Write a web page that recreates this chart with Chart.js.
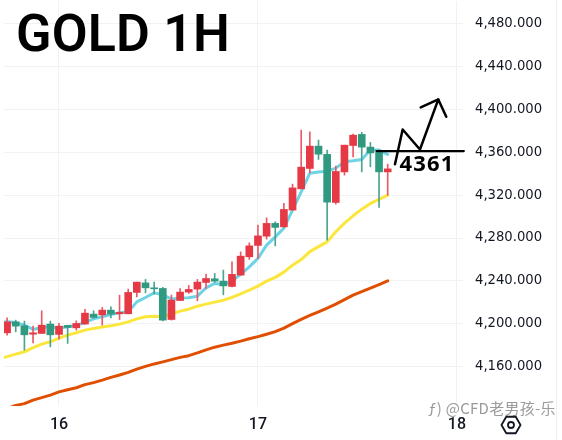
<!DOCTYPE html>
<html><head><meta charset="utf-8">
<script src="https://cdn.jsdelivr.net/npm/chart.js@4"></script>
<style>html,body{margin:0;padding:0;background:#fff}canvas{display:block}</style>
</head><body><canvas id="c" width="562" height="440"></canvas>
<script>
const opens =[4191.7,4201.9,4198.2,4190.4,4191.1,4199.8,4190.2,4198.6,4196.3,4199.8,4209.1,4208.4,4212.8,4209.4,4209.4,4229.3,4238.2,4233.6,4233,4204.1,4221.8,4229.6,4232.4,4238.6,4242,4239.8,4234.9,4245.4,4262.5,4273.1,4281.7,4293.6,4290.4,4306,4325.8,4344.8,4365.6,4357.9,4313.1,4341.6,4366.2,4376.5,4364.7,4359.7,4341.6];
const closes=[4201.9,4197.9,4189.8,4191.7,4198.8,4189.8,4197.9,4196.7,4200.4,4210,4206,4212.8,4209.1,4210.7,4229.3,4238.9,4233.6,4232.7,4203.5,4222.1,4229.6,4232.1,4238.9,4242.3,4239.8,4235.4,4246.1,4263.1,4272.7,4282,4293.6,4289.9,4306.6,4326.7,4346,4365.6,4358.1,4313.4,4342,4366.5,4375.8,4364.7,4359.3,4341.6,4344.4];
const highs =[4205.6,4203.5,4202.6,4197.9,4212.2,4202.6,4200.4,4198.8,4202.8,4213.5,4212.2,4215.3,4215.9,4226.8,4232.4,4238.9,4241.4,4238.9,4234,4226.8,4233,4235.8,4241.4,4246.3,4247,4250.1,4257.8,4267.1,4275.5,4292,4298.8,4295.1,4312.2,4330.2,4380.5,4378.9,4371.2,4361.9,4347,4366.5,4376.8,4378.4,4369,4361.9,4348.8];
const lows  =[4189.5,4192.6,4175.5,4182.3,4191.1,4178.6,4185.8,4181.8,4194.2,4199.8,4205.1,4198.8,4205.6,4204.1,4209.4,4225.2,4228.9,4227.7,4202.8,4203.5,4221.8,4228.4,4221.5,4233,4238.9,4227.1,4234.5,4245.4,4260,4261,4279,4272.7,4289.9,4306,4325.8,4340.7,4353.2,4278,4311.6,4338.6,4355.6,4341.6,4346.3,4308.5,4319.9];
// moving averages: the first value lies one bar before the first candle
const maFast=[4201.6,4201.9,4201.2,4198.8,4194.8,4196.7,4197.3,4195.8,4197.3,4198.8,4201.3,4204.7,4206.6,4208.8,4210.3,4211.2,4220.5,4224.6,4228.9,4227.2,4223.1,4224,4224.3,4225.8,4233.6,4237.7,4236.7,4239.8,4246.1,4253.1,4261,4273.4,4281.1,4289.2,4306,4323,4340.4,4341.4,4342.3,4345.1,4351,4351.9,4353.2,4361.9,4361.9,4357.9];
const maMid =[4167.6,4169.5,4171.8,4174,4177.9,4181.1,4183.3,4186.7,4189.5,4191.7,4194.2,4195.8,4197,4198.2,4199.8,4201.9,4204.7,4206.6,4207.2,4206.9,4209.1,4211.9,4213.7,4216.5,4218.4,4220.3,4222.1,4224.6,4228,4231.4,4235.2,4239.8,4243.3,4248.2,4254.7,4259.9,4267.3,4272,4276.4,4285.8,4293.9,4300.7,4306.9,4312.2,4315.9,4319.9];
const maSlow=[4118.7,4121,4124.1,4125.7,4129,4131.3,4133.6,4136.7,4138.7,4140.5,4143.4,4145.3,4147.6,4150.2,4152.4,4154.8,4157.8,4160.4,4162.7,4164.6,4166.7,4168.8,4170.4,4173,4175.8,4178.3,4180.2,4181.9,4183.9,4186.1,4188.1,4190.4,4192.8,4196,4200.2,4204.2,4207.9,4211.2,4214.7,4218.4,4222.6,4226.8,4230,4233.3,4236.6,4240.1];
const yTicks=[4160,4200,4240,4280,4320,4360,4400,4440,4480];
const dayTicks=[6,29,52];
const dayLabels=['16','17','18'];
// hand-drawn annotation, in bar index / price
const levelX=[42.7,52.8], levelY=[4361,4361];
const zigX=[44.84,45.73,47.73,49.85,50.77], zigY=[4348.8,4381.1,4362.5,4409.1,4392.9];
const headX=[47.82,49.85], headY=[4401.6,4409.1];
const titleText='GOLD 1H', levelText='4361', markText='\u0192) @CFD老男孩-乐';

const RED='#e63946', GREEN='#2f9a80';
const colors=opens.map((o,i)=>closes[i]>=o?RED:GREEN);
const wickColors=opens.map((o,i)=>closes[i]>=o?'#ea5a66':'#4aa58f');
const pts=(xs,ys)=>xs.map((x,i)=>({x,y:ys[i]}));
const fromPrev=a=>a.map((y,i)=>({x:i-1,y}));
const line=(data,color,width,order,clip)=>({type:'line',data,borderColor:color,borderWidth:width,pointRadius:0,tension:0,order,clip,fill:false,borderCapStyle:'round',borderJoinStyle:'round'});
const noPad=s=>{s.paddingTop=s.paddingBottom=s.paddingLeft=s.paddingRight=0;};

const decor={id:'decor',
 beforeDraw(ch){const c=ch.ctx;c.save();c.fillStyle='#fff';c.fillRect(0,0,562,440);
  c.strokeStyle='#efefef';c.lineWidth=1;c.beginPath();c.moveTo(556.5,0);c.lineTo(556.5,440);c.stroke();c.restore();},
 afterDraw(ch){const c=ch.ctx,xs=ch.scales.x,ys=ch.scales.y;c.save();
  c.fillStyle='#000';c.textBaseline='alphabetic';c.textAlign='left';
  c.letterSpacing='0.2px';c.font='600 52px Roboto';c.fillText(titleText,16,50.5);
  c.letterSpacing='1.2px';c.font='700 22px "Noto Sans"';c.fillText(levelText,xs.getPixelForValue(45.35),ys.getPixelForValue(4342.5));
  c.letterSpacing='0.3px';
  c.font='15px "Noto Sans CJK SC"';c.fillStyle='#9b9b9b';c.fillText(markText,428,414);
  // gear icon
  c.letterSpacing='0px';
  c.strokeStyle='#131722';c.lineWidth=1.8;c.lineJoin='round';const cx=511,cy=425,r=9.5;
  c.beginPath();for(let i=0;i<6;i++){const a=Math.PI/3*i;const px=cx+r*Math.cos(a),py=cy+r*Math.sin(a);i?c.lineTo(px,py):c.moveTo(px,py);}c.closePath();c.stroke();
  c.beginPath();c.arc(cx,cy,3,0,Math.PI*2);c.stroke();
  c.restore();}
};

new Chart(document.getElementById('c'),{
 data:{datasets:[
  {type:'bar',data:opens.map((o,i)=>({x:i,y:[Math.min(o,closes[i]),Math.max(o,closes[i])]})),backgroundColor:colors,barThickness:7,grouped:false,order:1},
  {type:'bar',data:lows.map((l,i)=>({x:i,y:[l,highs[i]]})),backgroundColor:wickColors,barThickness:1,grouped:false,order:2},
  line(fromPrev(maFast),'#6fd3e6',3,3),
  line(fromPrev(maMid),'#fbe73c',3,4),
  line(fromPrev(maSlow),'#e04f00',3,5),
  line(pts(levelX,levelY),'#000',2.2,0,false),
  line(pts(zigX,zigY),'#000',2.5,0,false),
  line(pts(headX,headY),'#000',2.5,0,false)
 ]},
 options:{responsive:false,animation:false,devicePixelRatio:1,
  layout:{padding:{left:4,right:5,top:1,bottom:0}},
  plugins:{legend:{display:false},tooltip:{enabled:false},title:{display:false}},
  scales:{
   x:{type:'linear',offset:false,min:-0.358,max:52.705,
    afterFit(s){s.height=34;noPad(s);},
    afterBuildTicks(s){s.ticks=dayTicks.map(v=>({value:v}));},
    grid:{color:'#f2f2f2',drawTicks:false,offset:false},border:{display:false},
    ticks:{padding:9,maxRotation:0,autoSkip:false,color:'#131722',font:{family:'Roboto',size:16,weight:'500'},
     callback:v=>dayLabels[dayTicks.indexOf(v)]}},
   y:{type:'linear',position:'right',min:4123.5,max:4500.8,
    afterFit(s){s.width=94;noPad(s);},
    afterBuildTicks(s){s.ticks=yTicks.map(v=>({value:v}));},
    grid:{color:'#f2f2f2',drawTicks:false},border:{display:false},
    ticks:{padding:12,color:'#131722',font:{family:'"DejaVu Sans"',size:13.2},
     callback:v=>v.toLocaleString('en-US',{minimumFractionDigits:3,maximumFractionDigits:3})}}
  }},
 plugins:[decor]
});
</script></body></html>
